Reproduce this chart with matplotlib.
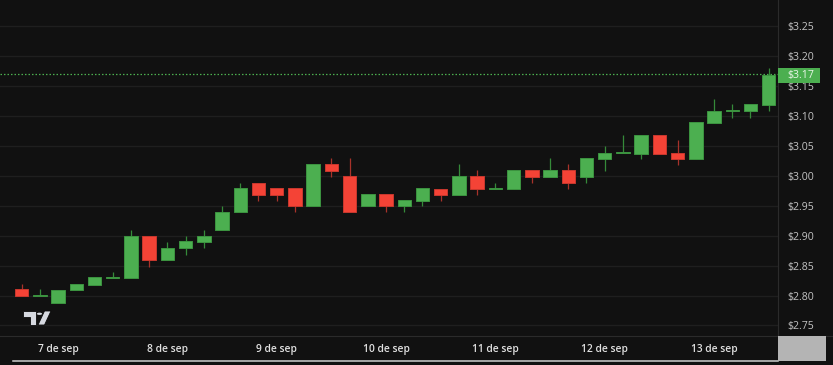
import numpy as np
import matplotlib
matplotlib.use("Agg")
import matplotlib.pyplot as plt
from matplotlib.patches import Rectangle, Polygon, Circle
from matplotlib.lines import Line2D

plt.rcParams['font.family'] = ['Open Sans', 'DejaVu Sans']

# 4h candles, 6 sep 16:00 -> 13 sep 12:00
opens = [2.811, 2.800, 2.788, 2.809, 2.818, 2.829, 2.829, 2.899, 2.859, 2.879,
         2.889, 2.909, 2.939, 2.989, 2.980, 2.980, 2.949, 3.020, 3.000, 2.949,
         2.970, 2.949, 2.958, 2.979, 2.969, 3.000, 2.979, 2.979, 3.010, 2.999,
         3.010, 2.999, 3.029, 3.038, 3.037, 3.069, 3.038, 3.029, 3.089, 3.109,
         3.108, 3.119]
highs = [2.820, 2.811, 2.810, 2.819, 2.831, 2.839, 2.910, 2.899, 2.890, 2.900,
         2.910, 2.950, 2.989, 2.989, 2.980, 2.980, 3.020, 3.030, 3.030, 2.970,
         2.970, 2.959, 2.980, 2.979, 3.020, 3.010, 2.989, 3.010, 3.010, 3.030,
         3.020, 3.030, 3.050, 3.069, 3.069, 3.069, 3.060, 3.090, 3.129, 3.120,
         3.120, 3.180]
lows = [2.799, 2.799, 2.788, 2.809, 2.818, 2.829, 2.829, 2.848, 2.859, 2.868,
        2.879, 2.909, 2.939, 2.958, 2.958, 2.939, 2.949, 2.999, 2.939, 2.949,
        2.939, 2.939, 2.949, 2.958, 2.969, 2.969, 2.979, 2.979, 2.988, 2.999,
        2.978, 2.988, 3.009, 3.038, 3.029, 3.037, 3.018, 3.029, 3.089, 3.097,
        3.097, 3.108]
closes = [2.800, 2.801, 2.810, 2.819, 2.831, 2.830, 2.899, 2.859, 2.880, 2.891,
          2.900, 2.940, 2.980, 2.969, 2.969, 2.949, 3.020, 3.009, 2.939, 2.970,
          2.949, 2.959, 2.980, 2.969, 3.000, 2.979, 2.980, 3.010, 2.999, 3.010,
          2.988, 3.030, 3.039, 3.039, 3.069, 3.037, 3.029, 3.090, 3.109, 3.110,
          3.120, 3.169]

day_idx = [2, 8, 14, 20, 26, 32, 38]
day_labels = ["7 de sep", "8 de sep", "9 de sep", "10 de sep",
              "11 de sep", "12 de sep", "13 de sep"]
price_ticks = [2.75, 2.80, 2.85, 2.90, 2.95, 3.00, 3.05, 3.10, 3.15, 3.20, 3.25]
last_price = 3.17

W, H = 833, 365
bg = "#111111"
green = "#4caf50"
red = "#f44336"

fig = plt.figure(figsize=(W / 100, H / 100), dpi=100, facecolor=bg)
ax = fig.add_axes([0, (H - 336) / H, 778 / W, 336 / H], facecolor=bg)

def fx(x):
    return x / W

def fy(y):
    return 1 - y / H

o = np.array(opens)
c = np.array(closes)
x = np.arange(len(o))
up = c >= o
cols = np.where(up, green, red)
edges = np.where(up, "#3c9440", "#c9382e")
wick_cols = np.where(up, "#358a39", "#a8322a")

ax.vlines(x, lows, highs, colors=wick_cols, linewidth=0.9, zorder=2)
body_low = np.minimum(o, c)
body_h = np.maximum(np.abs(c - o), 0.0017)
ax.bar(x, body_h, bottom=body_low, width=0.74, color=cols,
       edgecolor=edges, linewidth=0.7, zorder=3)

# last price dotted line
ax.axhline(last_price, color=green, linestyle=(0, (1.2, 1.6)), linewidth=0.9, zorder=1)

ax.set_xlim(-1.186, 41.51)
ax.set_ylim(2.7324, 3.2943)
ax.set_yticks(price_ticks)
ax.set_yticklabels([f"${p:.2f}" for p in price_ticks])
ax.yaxis.tick_right()
ax.tick_params(axis='y', length=0, pad=6.5, labelsize=7.6, labelcolor="#c4c4c4")
ax.set_xticks(day_idx)
ax.set_xticklabels(day_labels)
ax.tick_params(axis='x', length=0, pad=5.5, labelsize=7.4, labelcolor="#e0e0e0")
for t in ax.get_xticklabels():
    t.set_fontweight('semibold')
ax.grid(axis='y', color="#1f1f1f", linewidth=1.0, zorder=0)
for s in ax.spines.values():
    s.set_visible(False)
ax.spines['right'].set_visible(True)
ax.spines['right'].set_color("#2b2b2b")
ax.spines['bottom'].set_visible(True)
ax.spines['bottom'].set_color("#2b2b2b")

# last price tag on the price scale
fig.add_artist(Rectangle((fx(778), fy(83)), 42 / W, 15.5 / H,
                         transform=fig.transFigure, facecolor=green,
                         edgecolor="none", zorder=5))
fig.text(fx(787), fy(75.3), "$3.17", color="#eaf6ea", fontsize=7.6,
         va='center', ha='left', zorder=6)

# bottom strip: grey corner box and light line
fig.add_artist(Line2D([fx(778), fx(833)], [fy(336), fy(336)], color="#2b2b2b",
                      linewidth=0.8, transform=fig.transFigure))
fig.add_artist(Rectangle((fx(778), fy(361)), 47.5 / W, 25 / H,
                         transform=fig.transFigure, facecolor="#b4b4b4",
                         edgecolor="none", zorder=5))
fig.add_artist(Line2D([fx(13), fx(778)], [fy(361), fy(361)], color="#cfcfcf",
                      linewidth=1.1, transform=fig.transFigure))

# logo
logo_col = "#d6d9e0"
t_shape = [(23, 311), (35.5, 311), (35.5, 325), (29.5, 325), (29.5, 316.5), (23, 316.5)]
slash = [(44.5, 311), (51, 311), (44.5, 325), (38, 325)]
for shp in (t_shape, slash):
    fig.add_artist(Polygon([(fx(a), fy(b)) for a, b in shp], closed=True,
                           transform=fig.transFigure, facecolor=logo_col,
                           edgecolor="#0a0a0a", linewidth=0.6, zorder=5))
fig.add_artist(Circle((fx(39.5), fy(313.8)), 2.6 / W, transform=fig.transFigure,
                      facecolor=logo_col, edgecolor="none", zorder=5))

fig.savefig("out.png", dpi=100, facecolor=bg)
